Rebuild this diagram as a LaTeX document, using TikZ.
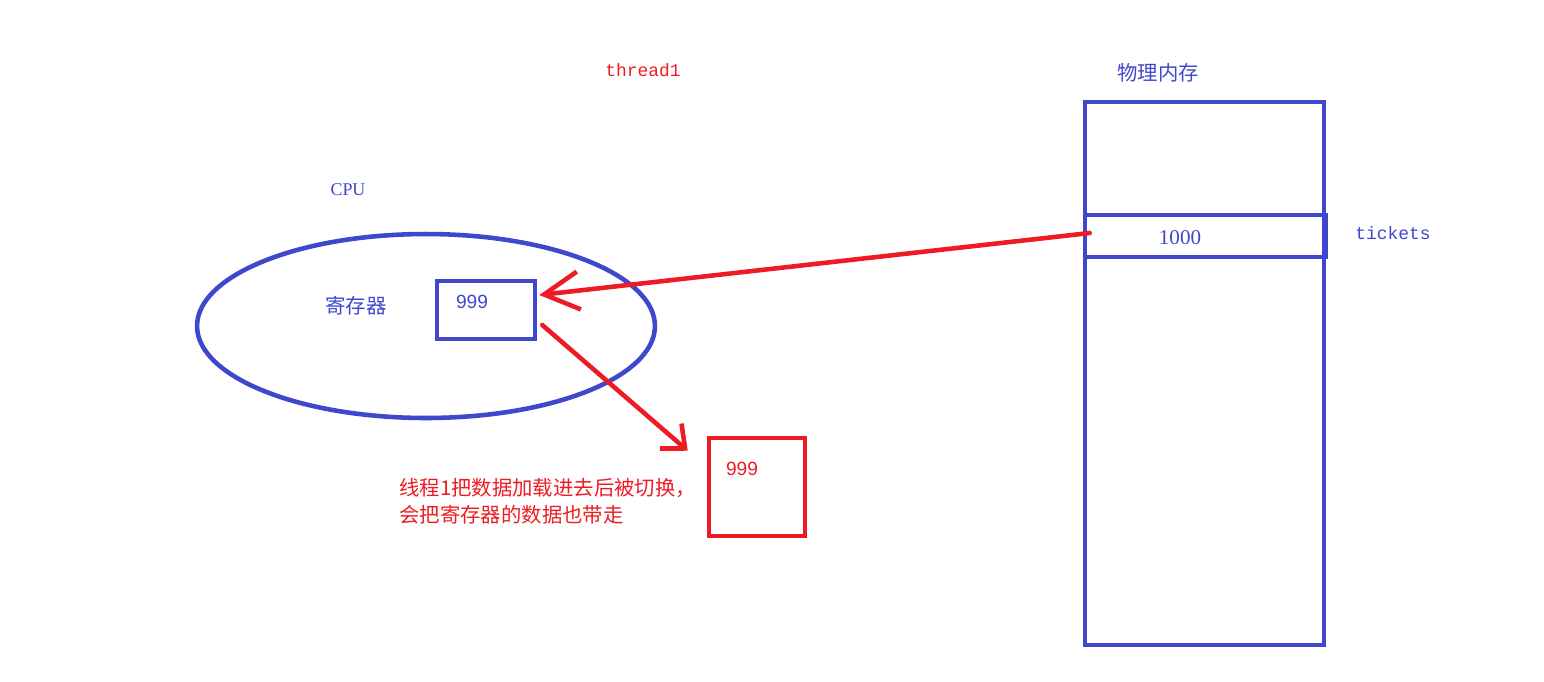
\documentclass[tikz,border=0pt]{standalone}
\usepackage{fontspec}
\setmainfont{Liberation Serif}
\setsansfont{Liberation Sans}
\setmonofont{Liberation Mono}
\newfontfamily\cjk{Noto Sans CJK SC}
\usetikzlibrary{positioning,arrows.meta,shapes.geometric,calc}
\definecolor{penblue}{RGB}{63,72,204}
\definecolor{penred}{RGB}{237,28,36}

\begin{document}
\begin{tikzpicture}[x=0.02cm,y=-0.02cm,
  bluebox/.style={draw=penblue,line width=2.6pt,inner sep=0pt},
  redbox/.style={draw=penred,line width=2.6pt,inner sep=0pt},
  bluetext/.style={text=penblue,inner sep=0pt},
  redtext/.style={text=penred,inner sep=0pt},
  redarrow/.style={draw=penred,line width=2.6pt,line cap=round}]
  \useasboundingbox (0,0) rectangle (1544,681);

  \node[redtext,font=\ttfamily\fontsize{10.2}{12}\selectfont] (thread) at (643,70) {thread1};

  \node[bluebox,ellipse,minimum width=9.16cm,minimum height=3.68cm] (cpu) at (426,326) {};
  \node[bluetext,font=\fontsize{10.2}{12}\selectfont] (cpulabel) at (348,190) {CPU};
  \node[bluetext,font=\cjk\fontsize{11.6}{13}\selectfont] (reglabel) at (356,306) {寄存器};
  \node[bluebox,minimum width=1.96cm,minimum height=1.16cm] (reg) at (486,310) {};
  \node[bluetext,font=\sffamily\fontsize{10.9}{12}\selectfont] (regval) at (472,302) {999};

  \node[bluetext,font=\cjk\fontsize{11.6}{13}\selectfont] (memlabel) at (1158,73) {物理内存};
  \node[bluebox,minimum width=4.78cm,minimum height=10.86cm] (mem) at (1204.5,373.5) {};
  \node[bluebox,minimum width=4.82cm,minimum height=0.84cm] (row) at (1205.5,236) {};
  \node[bluetext,font=\fontsize{12}{14}\selectfont] (rowval) at (1180,238) {1000};
  \node[bluetext,font=\ttfamily\fontsize{10.2}{12}\selectfont] (rowlabel) at (1393,233) {tickets};

  \node[redbox,minimum width=1.92cm,minimum height=1.96cm] (out) at (757,487) {};
  \node[redtext,font=\sffamily\fontsize{10.9}{12}\selectfont] (outval) at (742,469) {999};
  \node[redtext,anchor=west,align=left,font=\cjk\fontsize{11.6}{15.3}\selectfont] (note) at (399,501)
    {线程1把数据加载进去后被切换，\\会把寄存器的数据也带走};

  \draw[redarrow,-{Straight Barb[length=0.7cm,width=0.76cm]}] ($(row.west)+(7,-3)$) -- ($(reg.east)+(2,-15)$);
  \draw[redarrow,-{Straight Barb[length=0.38cm,width=0.66cm]}] ($(reg.east)+(5,15)$) -- ($(out.north west)+(-19,15)$);
\end{tikzpicture}
\end{document}
